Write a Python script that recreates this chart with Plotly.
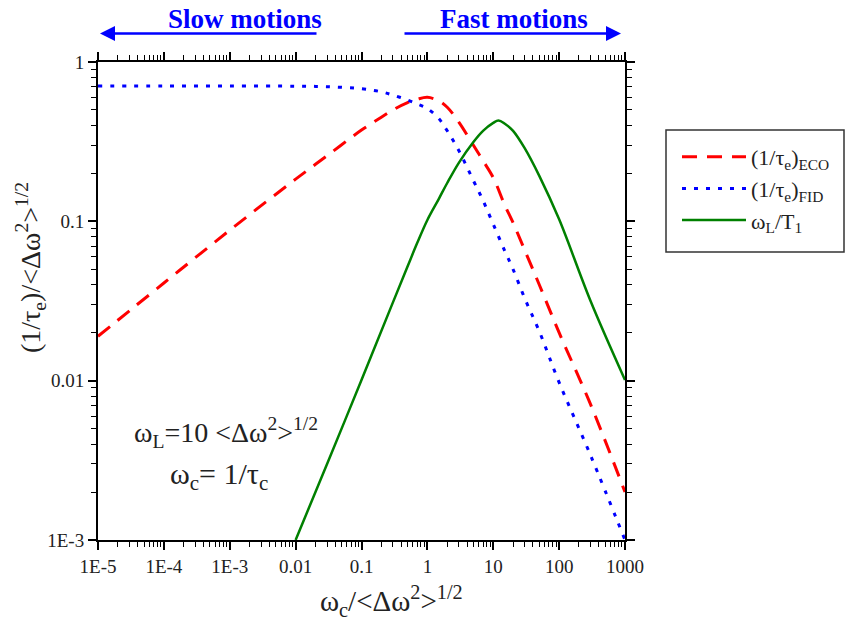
import plotly.graph_objects as go

# ---- data ----
x_vals = [1e-5, 1e-4, 1e-3, 1e-2, 0.03, 0.1, 0.2, 0.3, 0.5, 0.7, 1, 1.5, 2, 3, 5, 7,
          10, 15, 20, 30, 50, 100, 300, 1000]
eco = [0.019, 0.041, 0.088, 0.184, 0.258, 0.374, 0.45, 0.50, 0.556, 0.583, 0.60, 0.57,
       0.52, 0.42, 0.30, 0.24, 0.188, 0.126, 0.098, 0.066, 0.040, 0.020, 0.0071, 0.002]
fid = [0.706, 0.706, 0.706, 0.705, 0.70, 0.679, 0.65, 0.62, 0.577, 0.545, 0.51, 0.44,
       0.37, 0.278, 0.18, 0.135, 0.096, 0.065, 0.050, 0.0329, 0.0204, 0.00975, 0.0034, 0.001]
x_t1 = [0.01, 0.03, 0.1, 0.3, 0.5, 0.7, 1, 1.5, 2, 3, 5, 7, 10, 12, 15, 20, 30, 50,
        100, 300, 1000]
t1 = [0.001, 0.003, 0.0101, 0.031, 0.052, 0.073, 0.102, 0.139, 0.174, 0.233, 0.315, 0.37,
      0.415, 0.43, 0.41, 0.37, 0.288, 0.193, 0.103, 0.0316, 0.0101]

x_tickvals = [1e-5, 1e-4, 1e-3, 1e-2, 0.1, 1, 10, 100, 1000]
x_ticktext = ["1E-5", "1E-4", "1E-3", "0.01", "0.1", "1", "10", "100", "1000"]
y_tickvals = [1e-3, 1e-2, 0.1, 1]
y_ticktext = ["1E-3", "0.01", "0.1", "1"]

names = ["(1/τ<sub>e</sub>)<sub>ECO</sub>", "(1/τ<sub>e</sub>)<sub>FID</sub>",
         "ω<sub>L</sub>/T<sub>1</sub>"]
x_title = "ω<sub>c</sub>/&lt;Δω<sup>2</sup>&gt;<sup>1/2</sup>"
y_title = "(1/τ<sub>e</sub>)/&lt;Δω<sup>2</sup>&gt;<sup>1/2</sup>"

FONT = "Liberation Serif"
TXT = "#222"

fig = go.Figure()
fig.add_trace(go.Scatter(x=x_vals, y=eco, mode="lines", name=names[0],
                         line=dict(color="#FF0000", width=3, dash="15px,10px", shape="spline")))
fig.add_trace(go.Scatter(x=x_vals, y=fid, mode="lines", name=names[1],
                         line=dict(color="#0000FF", width=3, dash="4px,8px", shape="spline")))
fig.add_trace(go.Scatter(x=x_t1, y=t1, mode="lines", name=names[2],
                         line=dict(color="#008000", width=2.5, shape="spline")))

axis_common = dict(
    type="log", showline=True, linewidth=2, linecolor="black", mirror="ticks",
    ticks="outside", ticklen=8, tickwidth=1.5, tickcolor="black", showgrid=False,
    zeroline=False, tickfont=dict(family=FONT, size=19, color=TXT),
    minor=dict(ticks="outside", ticklen=5, tickwidth=1.2, tickcolor="black",
               dtick="D1", showgrid=False),
)

fig.update_xaxes(range=[-5, 3], tickmode="array", tickvals=x_tickvals, ticktext=x_ticktext,
                 **axis_common)
fig.update_yaxes(range=[-3, 0], tickmode="array", tickvals=y_tickvals, ticktext=y_ticktext,
                 **axis_common)

L, R, T, B = 98, 220, 62, 86
W, H = 845, 626
pw, ph = W - L - R, H - T - B


def px(xp):
    return (xp - L) / pw


def py(yp):
    return (H - B - yp) / ph


annotations = [
    dict(text=x_title, x=px(391), y=py(601), xref="paper", yref="paper",
         xanchor="center", yanchor="middle", showarrow=False,
         font=dict(family=FONT, size=29, color=TXT)),
    dict(text=y_title, x=px(30), y=py(268), xref="paper", yref="paper", textangle=-90,
         xanchor="center", yanchor="middle", showarrow=False,
         font=dict(family=FONT, size=28, color=TXT)),
    dict(text="ω<sub>L</sub>=10 &lt;Δω<sup>2</sup>&gt;<sup>1/2</sup>", x=px(132), y=py(432),
         xref="paper", yref="paper", xanchor="left", yanchor="middle", showarrow=False,
         font=dict(family=FONT, size=28, color=TXT)),
    dict(text="ω<sub>c</sub>= 1/τ<sub>c</sub>", x=px(168), y=py(476),
         xref="paper", yref="paper", xanchor="left", yanchor="middle", showarrow=False,
         font=dict(family=FONT, size=30, color=TXT)),
    dict(text="<b>Slow motions</b>", x=px(245), y=py(19), xref="paper", yref="paper",
         xanchor="center", yanchor="middle", showarrow=False,
         font=dict(family=FONT, size=27, color="#0000FF")),
    dict(text="<b>Fast motions</b>", x=px(514), y=py(19), xref="paper", yref="paper",
         xanchor="center", yanchor="middle", showarrow=False,
         font=dict(family=FONT, size=27, color="#0000FF")),
    dict(text="", x=px(100), y=py(33.5), xref="paper", yref="paper", showarrow=True,
         ax=218, ay=0, arrowhead=2, arrowsize=1.2, arrowwidth=2.5, arrowcolor="#0000FF"),
    dict(text="", x=px(621), y=py(33.5), xref="paper", yref="paper", showarrow=True,
         ax=-218, ay=0, arrowhead=2, arrowsize=1.2, arrowwidth=2.5, arrowcolor="#0000FF"),
]

fig.update_layout(
    width=W, height=H, margin=dict(l=L, r=R, t=T, b=B, autoexpand=False),
    paper_bgcolor="white", plot_bgcolor="white",
    font=dict(family=FONT, color=TXT),
    annotations=annotations,
    legend=dict(x=px(677), y=py(136), xanchor="left", yanchor="top",
                font=dict(family=FONT, size=22, color=TXT), borderwidth=0,
                bgcolor="rgba(0,0,0,0)", itemwidth=64),
    shapes=[dict(type="rect", xref="paper", yref="paper", x0=px(666), x1=px(844),
                 y0=py(252), y1=py(130), line=dict(color="#333", width=1.5))],
)

fig.write_html("out.html")
